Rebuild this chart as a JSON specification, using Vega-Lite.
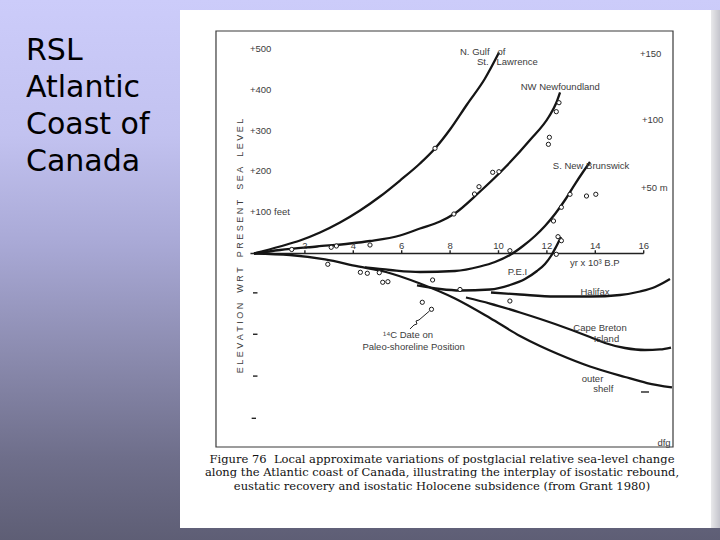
{
  "$schema": "https://vega.github.io/schema/vega-lite/v6.json",
  "width": 720,
  "height": 540,
  "autosize": {"type": "fit", "contains": "padding"},
  "padding": 0,
  "config": {"view": {"stroke": null}},
  "datasets": {
    "bg": [{"k1": -10.599, "k2": 19.153, "f1": 618.3, "f2": -698.8}],
    "page": [{"k1": -3.161, "k2": 18.781, "f1": 593.9, "f2": -669.5}],
    "edge": [{"k1": 18.781, "k2": 19.153, "f1": 593.9, "f2": -669.5}],
    "frame": [{"k1": -1.674, "k2": 17.211, "f1": 542.7, "f2": -472}],
    "rules": [
      {"k1": -0.25, "k2": 16.0, "f1": 0, "f2": 0},
      {"k1": 2, "k2": 2, "f1": 0, "f2": 8},
      {"k1": 4, "k2": 4, "f1": 0, "f2": 8},
      {"k1": 6, "k2": 6, "f1": 0, "f2": 8},
      {"k1": 8, "k2": 8, "f1": 0, "f2": 8},
      {"k1": 10, "k2": 10, "f1": 0, "f2": 8},
      {"k1": 12, "k2": 12, "f1": 0, "f2": 8},
      {"k1": 14, "k2": 14, "f1": 0, "f2": 8},
      {"k1": 16, "k2": 16, "f1": 0, "f2": 8},
      {"k1": -0.145, "k2": 0.041, "f1": -96, "f2": -96},
      {"k1": -0.145, "k2": 0.041, "f1": -197, "f2": -197},
      {"k1": -0.145, "k2": 0.041, "f1": -299, "f2": -299},
      {"k1": -0.2, "k2": -0.02, "f1": -402, "f2": -402},
      {"k1": 15.888, "k2": 16.219, "f1": -337.8, "f2": -337.8}
    ],
    "curves": [
      {"s": "N Gulf", "k": -0.103, "f": 0}, {"s": "N Gulf", "k": 0.971, "f": 17.1}, {"s": "N Gulf", "k": 1.798, "f": 31.7}, {"s": "N Gulf", "k": 2.624, "f": 51.2}, {"s": "N Gulf", "k": 3.45, "f": 75.6}, {"s": "N Gulf", "k": 4.277, "f": 104.9}, {"s": "N Gulf", "k": 5.103, "f": 139}, {"s": "N Gulf", "k": 5.93, "f": 178}, {"s": "N Gulf", "k": 6.756, "f": 219.5}, {"s": "N Gulf", "k": 7.376, "f": 256.1}, {"s": "N Gulf", "k": 7.996, "f": 302.4}, {"s": "N Gulf", "k": 8.698, "f": 363.4}, {"s": "N Gulf", "k": 9.442, "f": 426.8}, {"s": "N Gulf", "k": 10.021, "f": 490.2},
      {"s": "NW Nfld", "k": -0.103, "f": 0}, {"s": "NW Nfld", "k": 0.971, "f": 8.5}, {"s": "NW Nfld", "k": 2.5, "f": 17.1}, {"s": "NW Nfld", "k": 3.864, "f": 24.4}, {"s": "NW Nfld", "k": 4.69, "f": 30.5}, {"s": "NW Nfld", "k": 5.93, "f": 43.9}, {"s": "NW Nfld", "k": 6.756, "f": 61}, {"s": "NW Nfld", "k": 7.583, "f": 78}, {"s": "NW Nfld", "k": 8.161, "f": 96.3}, {"s": "NW Nfld", "k": 9.194, "f": 148.8}, {"s": "NW Nfld", "k": 10.31, "f": 212.2}, {"s": "NW Nfld", "k": 11.302, "f": 276.8}, {"s": "NW Nfld", "k": 12.087, "f": 334.1}, {"s": "NW Nfld", "k": 12.376, "f": 365.9}, {"s": "NW Nfld", "k": 12.541, "f": 392.7},
      {"s": "S NB", "k": 4.483, "f": -34.1}, {"s": "S NB", "k": 5.517, "f": -40.2}, {"s": "S NB", "k": 6.756, "f": -45.1}, {"s": "S NB", "k": 8.202, "f": -42.7}, {"s": "S NB", "k": 9.236, "f": -31.7}, {"s": "S NB", "k": 9.855, "f": -20.7}, {"s": "S NB", "k": 10.475, "f": -3.7}, {"s": "S NB", "k": 11.012, "f": 18.3}, {"s": "S NB", "k": 11.508, "f": 42.7}, {"s": "S NB", "k": 11.921, "f": 67.1}, {"s": "S NB", "k": 12.335, "f": 96.3}, {"s": "S NB", "k": 12.748, "f": 130.5}, {"s": "S NB", "k": 13.161, "f": 169.5}, {"s": "S NB", "k": 13.492, "f": 198.8}, {"s": "S NB", "k": 13.781, "f": 223.2},
      {"s": "PEI", "k": 6.632, "f": -78}, {"s": "PEI", "k": 7.583, "f": -86.6}, {"s": "PEI", "k": 8.409, "f": -90.2}, {"s": "PEI", "k": 9.649, "f": -87.8}, {"s": "PEI", "k": 10.475, "f": -76.8}, {"s": "PEI", "k": 11.095, "f": -62.2}, {"s": "PEI", "k": 11.591, "f": -42.7}, {"s": "PEI", "k": 11.921, "f": -25.6}, {"s": "PEI", "k": 12.169, "f": -6.1}, {"s": "PEI", "k": 12.376, "f": 15.9}, {"s": "PEI", "k": 12.583, "f": 40.2},
      {"s": "Halifax", "k": 9.69, "f": -95.1}, {"s": "Halifax", "k": 10.888, "f": -100}, {"s": "Halifax", "k": 12.335, "f": -104.9}, {"s": "Halifax", "k": 13.781, "f": -104.9}, {"s": "Halifax", "k": 15.021, "f": -101.2}, {"s": "Halifax", "k": 15.847, "f": -92.7}, {"s": "Halifax", "k": 16.467, "f": -81.7}, {"s": "Halifax", "k": 16.798, "f": -72}, {"s": "Halifax", "k": 17.087, "f": -62.2},
      {"s": "Cape Breton", "k": 8.657, "f": -107.3}, {"s": "Cape Breton", "k": 9.649, "f": -122}, {"s": "Cape Breton", "k": 10.888, "f": -143.9}, {"s": "Cape Breton", "k": 12.335, "f": -172}, {"s": "Cape Breton", "k": 13.781, "f": -203.7}, {"s": "Cape Breton", "k": 14.401, "f": -218.3}, {"s": "Cape Breton", "k": 15.227, "f": -230.5}, {"s": "Cape Breton", "k": 16.054, "f": -235.4}, {"s": "Cape Breton", "k": 16.674, "f": -234.1}, {"s": "Cape Breton", "k": 17.128, "f": -229.3},
      {"s": "outer shelf", "k": -0.103, "f": 0}, {"s": "outer shelf", "k": 1.384, "f": -3.7}, {"s": "outer shelf", "k": 2.831, "f": -14.6}, {"s": "outer shelf", "k": 4.194, "f": -31.7}, {"s": "outer shelf", "k": 5.351, "f": -45.1}, {"s": "outer shelf", "k": 6.756, "f": -73.2}, {"s": "outer shelf", "k": 8.202, "f": -109.8}, {"s": "outer shelf", "k": 9.649, "f": -157.3}, {"s": "outer shelf", "k": 10.888, "f": -201.2}, {"s": "outer shelf", "k": 11.715, "f": -225.6}, {"s": "outer shelf", "k": 12.459, "f": -245.1}, {"s": "outer shelf", "k": 13.781, "f": -275.6}, {"s": "outer shelf", "k": 15.227, "f": -301.2}, {"s": "outer shelf", "k": 16.136, "f": -315.9}, {"s": "outer shelf", "k": 17.169, "f": -326.8}
    ],
    "leader": [
      {"i": 1, "k": 6.343, "f": -184.1}, {"i": 2, "k": 6.508, "f": -174.4}, {"i": 3, "k": 6.632, "f": -171.9}, {"i": 4, "k": 6.591, "f": -164.6}, {"i": 5, "k": 6.715, "f": -162.2}, {"i": 6, "k": 7.149, "f": -140.2}
    ],
    "dates": [
      {"k": 1.455, "f": 9.8}, {"k": 3.087, "f": 15.1}, {"k": 3.302, "f": 18.3}, {"k": 4.69, "f": 20.7}, {"k": 8.157, "f": 96.3}, {"k": 9.008, "f": 145.1}, {"k": 9.194, "f": 162.9}, {"k": 9.76, "f": 198}, {"k": 10.017, "f": 199.5}, {"k": 12.062, "f": 266.3}, {"k": 12.103, "f": 283.4}, {"k": 12.388, "f": 345.9}, {"k": 12.5, "f": 367.8}, {"k": 7.376, "f": 256.6},
      {"k": 12.955, "f": 144.4}, {"k": 13.636, "f": 140.2}, {"k": 14.021, "f": 144.4}, {"k": 12.599, "f": 112.7}, {"k": 12.273, "f": 79.3}, {"k": 12.459, "f": 41}, {"k": 12.599, "f": 31.2}, {"k": 10.471, "f": 6.8}, {"k": 12.388, "f": -2},
      {"k": 2.946, "f": -26.3}, {"k": 4.293, "f": -45.9}, {"k": 4.579, "f": -48.3}, {"k": 5.074, "f": -46.8}, {"k": 5.215, "f": -70.2}, {"k": 5.43, "f": -68.8}, {"k": 7.277, "f": -64.6}, {"k": 8.409, "f": -87.8}, {"k": 6.851, "f": -119}, {"k": 7.231, "f": -136.1}, {"k": 10.471, "f": -115.9}
    ],
    "labL": [
      {"k": -0.269, "f": 500, "t": "+500"},
      {"k": -0.269, "f": 400, "t": "+400"},
      {"k": -0.269, "f": 300, "t": "+300"},
      {"k": -0.269, "f": 200, "t": "+200"},
      {"k": -0.269, "f": 100, "t": "+100 feet"},
      {"k": 15.847, "f": 485.9, "t": "+150"},
      {"k": 15.93, "f": 325.6, "t": "+100"},
      {"k": 15.888, "f": 159, "t": "+50 m"},
      {"k": 8.409, "f": 492.2, "t": "N. Gulf\u00a0\u00a0\u00a0of"},
      {"k": 9.112, "f": 467.8, "t": "St.\u00a0\u00a0\u00a0Lawrence"},
      {"k": 10.917, "f": 406.8, "t": "NW Newfoundland"},
      {"k": 12.244, "f": 213.4, "t": "S. New Brunswick"},
      {"k": 12.955, "f": -23.2, "t": "yr x 10³ B.P"}
    ],
    "labC": [
      {"k": 2, "f": 19.5, "t": "2"}, {"k": 4, "f": 19.5, "t": "4"}, {"k": 6, "f": 19.5, "t": "6"}, {"k": 8, "f": 19.5, "t": "8"}, {"k": 10, "f": 19.5, "t": "10"}, {"k": 12, "f": 19.5, "t": "12"}, {"k": 14, "f": 19.5, "t": "14"}, {"k": 16, "f": 19.5, "t": "16"},
      {"k": 10.785, "f": -44.4, "t": "P.E.I"},
      {"k": 13.988, "f": -92.7, "t": "Halifax"},
      {"k": 14.194, "f": -182, "t": "Cape Breton"},
      {"k": 14.463, "f": -209, "t": "Island"},
      {"k": 13.884, "f": -306.8, "t": "outer"},
      {"k": 14.33, "f": -329.5, "t": "shelf"},
      {"k": 6.26, "f": -198.8, "t": "¹⁴C Date on"},
      {"k": 6.492, "f": -228, "t": "Paleo-shoreline Position"},
      {"k": 16.839, "f": -461.5, "t": "dfg"}
    ],
    "ytitle": [
      {"k": -0.702, "f": 18.3, "t": "E\u00a0L\u00a0E\u00a0V\u00a0A\u00a0T\u00a0I\u00a0O\u00a0N\u00a0\u00a0\u00a0\u00a0W\u00a0R\u00a0T\u00a0\u00a0\u00a0\u00a0P\u00a0R\u00a0E\u00a0S\u00a0E\u00a0N\u00a0T\u00a0\u00a0\u00a0\u00a0S\u00a0E\u00a0A\u00a0\u00a0\u00a0\u00a0L\u00a0E\u00a0V\u00a0E\u00a0L"}
    ],
    "caption": [
      {"k": 7.665, "f": -503.7, "t": "Figure 76\u00a0\u00a0Local approximate variations of postglacial relative sea-level change"},
      {"k": 7.665, "f": -536.6, "t": "along the Atlantic coast of Canada, illustrating the interplay of isostatic rebound,"},
      {"k": 7.665, "f": -569.5, "t": "eustatic recovery and isostatic Holocene subsidence (from Grant 1980)"}
    ],
    "title": [
      {"k": -9.525, "f": 472.0, "t": "RSL"},
      {"k": -9.525, "f": 381.0, "t": "Atlantic"},
      {"k": -9.525, "f": 291.5, "t": "Coast of"},
      {"k": -9.525, "f": 202.0, "t": "Canada"}
    ]
  },
  "layer": [
    {
      "data": {"name": "bg"},
      "mark": {"type": "rect", "color": {"gradient": "linear", "x1": 0, "y1": 0, "x2": 0, "y2": 1, "stops": [{"offset": 0, "color": "#ccccfa"}, {"offset": 0.25, "color": "#c2c2f0"}, {"offset": 0.45, "color": "#a9a9d6"}, {"offset": 0.65, "color": "#8c8cb0"}, {"offset": 0.85, "color": "#6e6e8a"}, {"offset": 1, "color": "#5e5e75"}]}},
      "encoding": {
        "x": {"field": "k1", "type": "quantitative", "scale": {"domain": [-10.599, 19.153], "nice": false, "zero": false}, "axis": null},
        "x2": {"field": "k2"},
        "y": {"field": "f1", "type": "quantitative", "scale": {"domain": [-698.8, 618.3], "nice": false, "zero": false}, "axis": null},
        "y2": {"field": "f2"}
      }
    },
    {
      "data": {"name": "page"},
      "mark": {"type": "rect", "color": "#ffffff"},
      "encoding": {
        "x": {"field": "k1", "type": "quantitative", "scale": {"domain": [-10.599, 19.153], "nice": false, "zero": false}, "axis": null},
        "x2": {"field": "k2"},
        "y": {"field": "f1", "type": "quantitative", "scale": {"domain": [-698.8, 618.3], "nice": false, "zero": false}, "axis": null},
        "y2": {"field": "f2"}
      }
    },
    {
      "data": {"name": "edge"},
      "mark": {"type": "rect", "color": {"gradient": "linear", "x1": 0, "y1": 0, "x2": 1, "y2": 0, "stops": [{"offset": 0, "color": "#e8e8ea"}, {"offset": 1, "color": "#c4c4cc"}]}},
      "encoding": {
        "x": {"field": "k1", "type": "quantitative", "scale": {"domain": [-10.599, 19.153], "nice": false, "zero": false}, "axis": null},
        "x2": {"field": "k2"},
        "y": {"field": "f1", "type": "quantitative", "scale": {"domain": [-698.8, 618.3], "nice": false, "zero": false}, "axis": null},
        "y2": {"field": "f2"}
      }
    },
    {
      "data": {"name": "frame"},
      "mark": {"type": "rect", "fillOpacity": 0, "stroke": "#3a3a3a", "strokeWidth": 1.2},
      "encoding": {
        "x": {"field": "k1", "type": "quantitative", "scale": {"domain": [-10.599, 19.153], "nice": false, "zero": false}, "axis": null},
        "x2": {"field": "k2"},
        "y": {"field": "f1", "type": "quantitative", "scale": {"domain": [-698.8, 618.3], "nice": false, "zero": false}, "axis": null},
        "y2": {"field": "f2"}
      }
    },
    {
      "data": {"name": "rules"},
      "mark": {"type": "rule", "color": "#222222", "strokeWidth": 1.4},
      "encoding": {
        "x": {"field": "k1", "type": "quantitative", "scale": {"domain": [-10.599, 19.153], "nice": false, "zero": false}, "axis": null},
        "x2": {"field": "k2"},
        "y": {"field": "f1", "type": "quantitative", "scale": {"domain": [-698.8, 618.3], "nice": false, "zero": false}, "axis": null},
        "y2": {"field": "f2"}
      }
    },
    {
      "data": {"name": "curves"},
      "mark": {"type": "line", "color": "#151515", "strokeWidth": 2.3, "interpolate": "monotone"},
      "encoding": {
        "x": {"field": "k", "type": "quantitative", "scale": {"domain": [-10.599, 19.153], "nice": false, "zero": false}, "axis": null},
        "y": {"field": "f", "type": "quantitative", "scale": {"domain": [-698.8, 618.3], "nice": false, "zero": false}, "axis": null},
        "detail": {"field": "s"}
      }
    },
    {
      "data": {"name": "leader"},
      "mark": {"type": "line", "color": "#222222", "strokeWidth": 1},
      "encoding": {
        "x": {"field": "k", "type": "quantitative", "scale": {"domain": [-10.599, 19.153], "nice": false, "zero": false}, "axis": null},
        "y": {"field": "f", "type": "quantitative", "scale": {"domain": [-698.8, 618.3], "nice": false, "zero": false}, "axis": null},
        "order": {"field": "i"}
      }
    },
    {
      "data": {"name": "dates"},
      "mark": {"type": "point", "filled": false, "fill": "#ffffff", "fillOpacity": 1, "stroke": "#1a1a1a", "strokeWidth": 1, "size": 18, "opacity": 1},
      "encoding": {
        "x": {"field": "k", "type": "quantitative", "scale": {"domain": [-10.599, 19.153], "nice": false, "zero": false}, "axis": null},
        "y": {"field": "f", "type": "quantitative", "scale": {"domain": [-698.8, 618.3], "nice": false, "zero": false}, "axis": null}
      }
    },
    {
      "data": {"name": "labL"},
      "mark": {"type": "text", "align": "left", "baseline": "middle", "font": "Liberation Sans", "fontSize": 9.5, "color": "#3c3c3c"},
      "encoding": {
        "x": {"field": "k", "type": "quantitative", "scale": {"domain": [-10.599, 19.153], "nice": false, "zero": false}, "axis": null},
        "y": {"field": "f", "type": "quantitative", "scale": {"domain": [-698.8, 618.3], "nice": false, "zero": false}, "axis": null},
        "text": {"field": "t"}
      }
    },
    {
      "data": {"name": "labC"},
      "mark": {"type": "text", "align": "center", "baseline": "middle", "font": "Liberation Sans", "fontSize": 9.5, "color": "#3c3c3c"},
      "encoding": {
        "x": {"field": "k", "type": "quantitative", "scale": {"domain": [-10.599, 19.153], "nice": false, "zero": false}, "axis": null},
        "y": {"field": "f", "type": "quantitative", "scale": {"domain": [-698.8, 618.3], "nice": false, "zero": false}, "axis": null},
        "text": {"field": "t"}
      }
    },
    {
      "data": {"name": "ytitle"},
      "mark": {"type": "text", "align": "center", "baseline": "middle", "angle": 270, "font": "Liberation Sans", "fontSize": 9, "color": "#3c3c3c"},
      "encoding": {
        "x": {"field": "k", "type": "quantitative", "scale": {"domain": [-10.599, 19.153], "nice": false, "zero": false}, "axis": null},
        "y": {"field": "f", "type": "quantitative", "scale": {"domain": [-698.8, 618.3], "nice": false, "zero": false}, "axis": null},
        "text": {"field": "t"}
      }
    },
    {
      "data": {"name": "caption"},
      "mark": {"type": "text", "align": "center", "baseline": "middle", "font": "DejaVu Serif", "fontSize": 11.5, "color": "#111111"},
      "encoding": {
        "x": {"field": "k", "type": "quantitative", "scale": {"domain": [-10.599, 19.153], "nice": false, "zero": false}, "axis": null},
        "y": {"field": "f", "type": "quantitative", "scale": {"domain": [-698.8, 618.3], "nice": false, "zero": false}, "axis": null},
        "text": {"field": "t"}
      }
    },
    {
      "data": {"name": "title"},
      "mark": {"type": "text", "align": "left", "baseline": "alphabetic", "font": "DejaVu Sans", "fontSize": 30, "color": "#000000"},
      "encoding": {
        "x": {"field": "k", "type": "quantitative", "scale": {"domain": [-10.599, 19.153], "nice": false, "zero": false}, "axis": null},
        "y": {"field": "f", "type": "quantitative", "scale": {"domain": [-698.8, 618.3], "nice": false, "zero": false}, "axis": null},
        "text": {"field": "t"}
      }
    }
  ]
}
